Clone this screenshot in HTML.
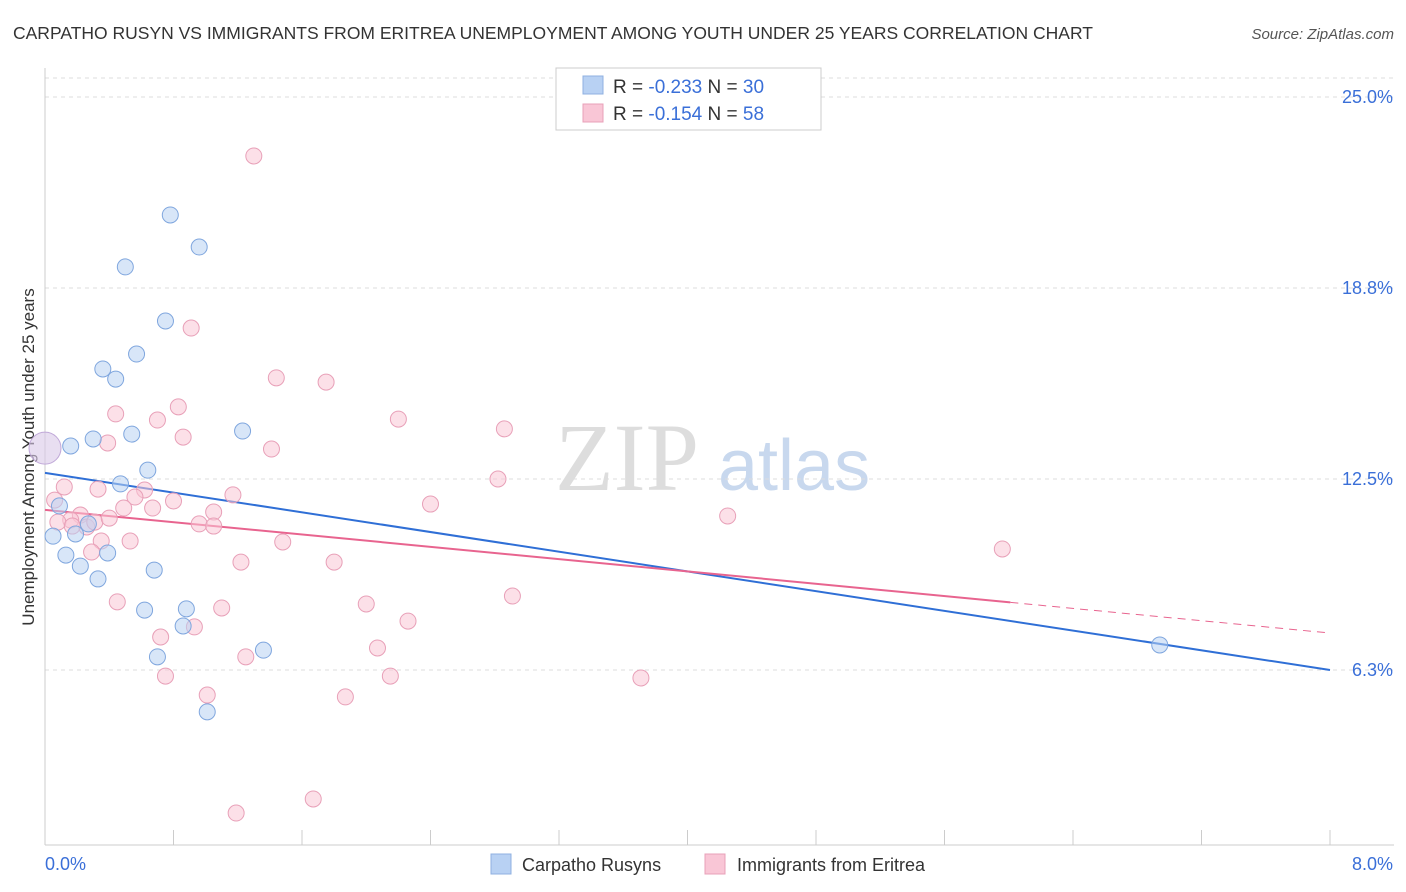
<!DOCTYPE html>
<html><head><meta charset="utf-8"><style>
body{margin:0;background:#fff;font-family:"Liberation Sans",sans-serif}
svg{display:block}
</style></head><body>
<svg id="chart" width="1406" height="892">
<text x="13" y="39" font-size="17.5" fill="#333">CARPATHO RUSYN VS IMMIGRANTS FROM ERITREA UNEMPLOYMENT AMONG YOUTH UNDER 25 YEARS CORRELATION CHART</text>
<text x="1394" y="39" font-size="15" fill="#555" font-style="italic" text-anchor="end">Source: ZipAtlas.com</text>
<text x="0" y="0" transform="translate(34,457) rotate(-90)" font-size="17" fill="#333" text-anchor="middle">Unemployment Among Youth under 25 years</text>
<g><text x="555" y="490" font-size="96" fill="#ddd" font-family="Liberation Serif,serif">ZIP</text><text x="718" y="490" font-size="72" fill="#c8d8ee">atlas</text></g>
<g id="grid"></g><g id="axes"></g><g id="trends"></g><g id="pts"></g>
<g>
<rect x="556" y="68" width="265" height="62" fill="#fff" stroke="#ccc"/>
<rect x="583" y="76" width="20" height="18" fill="#b8d1f3" stroke="#8fb0e0"/>
<text x="613" y="93" font-size="19" fill="#333">R = <tspan fill="#3a6fd8">-0.233</tspan>   N = <tspan fill="#3a6fd8">30</tspan></text>
<rect x="583" y="104" width="20" height="18" fill="#f9c6d6" stroke="#e8a0b8"/>
<text x="613" y="120" font-size="19" fill="#333">R = <tspan fill="#3a6fd8">-0.154</tspan>   N = <tspan fill="#3a6fd8">58</tspan></text>
</g>
<g>
<rect x="491" y="854" width="20" height="20" fill="#b8d1f3" stroke="#8fb0e0"/>
<text x="522" y="871" font-size="18" fill="#333">Carpatho Rusyns</text>
<rect x="705" y="854" width="20" height="20" fill="#f9c6d6" stroke="#e8a0b8"/>
<text x="737" y="871" font-size="18" fill="#333">Immigrants from Eritrea</text>
</g>
</svg>
<script>
const blueX=[0.78,0.96,0.50,0.75,0.57,0.36,0.44,1.23,0.54,0.30,0.16,0.64,0.47,0.09,0.27,0.05,0.19,0.13,0.39,0.22,0.68,0.33,0.62,0.88,0.86,0.70,1.36,1.01,6.94];
const blueY=[21.14,20.09,19.44,17.67,16.59,16.10,15.77,14.07,13.97,13.81,13.58,12.79,12.34,11.62,11.03,10.63,10.70,10.01,10.08,9.65,9.52,9.23,8.21,8.25,7.69,6.68,6.90,4.88,7.07];
const pinkX=[1.30,0.91,1.44,1.75,0.83,0.44,0.70,2.20,2.86,0.86,0.39,1.41,0.12,0.33,0.62,0.56,0.80,0.06,1.17,2.82,2.40,0.49,0.67,1.05,4.25,0.22,0.16,0.08,0.26,0.96,1.05,1.48,0.35,0.53,0.29,1.22,1.80,5.96,0.45,1.10,2.00,2.91,2.26,0.72,0.93,2.07,1.25,0.75,2.15,3.71,1.01,1.87,1.19,1.67,0.31,0.40,0.17];
const pinkY=[23.07,17.44,15.81,15.67,14.86,14.63,14.43,14.46,14.14,13.87,13.68,13.48,12.24,12.17,12.14,11.91,11.78,11.81,11.98,12.50,11.68,11.55,11.55,11.42,11.29,11.32,11.16,11.09,10.93,11.03,10.96,10.44,10.47,10.47,10.11,9.78,9.78,10.21,8.48,8.28,8.41,8.67,7.85,7.33,7.66,6.97,6.68,6.05,6.05,5.99,5.43,5.37,1.57,2.03,11.09,11.22,10.96];
const bigX=[0,0], bigY=[13.51,13.58];
const yTicks=[25.0,18.8,12.5,6.3];
const yTickVals=[25,18.75,12.5,6.25];
const blueTrend=[12.70,6.25], pinkTrend=[11.49,7.46], pinkSolidEnd=6.01;
const NS="http://www.w3.org/2000/svg";
const xs=v=>45+v/8*1285, ys=v=>97+(25-v)*30.56;
function mk(t,a,p){const e=document.createElementNS(NS,t);for(const k in a)e.setAttribute(k,a[k]);document.getElementById(p).appendChild(e);return e;}
yTickVals.forEach((v,i)=>{
 let l=mk('line',{x1:45,x2:1394,y1:ys(v),y2:ys(v),stroke:'#ddd','stroke-dasharray':'4,4'},'grid');
 
 
 let t=mk('text',{x:1393,y:ys(v)+6,'font-size':18,fill:'#3a6fd8','text-anchor':'end'},'axes');t.textContent=yTicks[i].toFixed(1)+'%';
 
 
});
let tl=mk('line',{x1:45,x2:1394,y1:78,y2:78,stroke:'#ddd','stroke-dasharray':'4,4'},'grid');


let ya=mk('line',{x1:45,x2:45,y1:68,y2:845,stroke:'#ccc'},'axes');


let xa=mk('line',{x1:45,x2:1394,y1:845,y2:845,stroke:'#ccc'},'axes');


for(let i=0;i<=10;i++){let t=mk('line',{x1:xs(i*0.8),x2:xs(i*0.8),y1:830,y2:845,stroke:'#ccc'},'axes');
 
 }
[[0,'0.0%','start',45],[8,'8.0%','end',1393]].forEach(d=>{let t=mk('text',{x:d[3],y:870,'font-size':18,fill:'#3a6fd8','text-anchor':d[2]},'axes');t.textContent=d[1];
 
 });
function pts(X,Y,f,s,n,r){X.forEach((x,i)=>{let c=mk('circle',{cx:xs(x),cy:ys(Y[i]),r:r,fill:f,'fill-opacity':0.55,stroke:s,'stroke-width':1},'pts');
 
 });}
pts(pinkX,pinkY,'#f9c6d6','#e8a0b8','eritrea-point',8);
pts(blueX,blueY,'#b8d1f3','#7fa6de','rusyn-point',8);
let bp=mk('circle',{cx:xs(bigX[0]),cy:ys(bigY[0]),r:16,fill:'#d8c8e8','fill-opacity':0.6,stroke:'#c0a8d8'},'pts');


let bt=mk('line',{x1:xs(0),y1:ys(blueTrend[0]),x2:xs(8),y2:ys(blueTrend[1]),stroke:'#2f6fd6','stroke-width':2},'trends');


const pAt=x=>pinkTrend[0]+(pinkTrend[1]-pinkTrend[0])*x/8;
let pt=mk('line',{x1:xs(0),y1:ys(pinkTrend[0]),x2:xs(pinkSolidEnd),y2:ys(pAt(pinkSolidEnd)),stroke:'#e8648f','stroke-width':2},'trends');


let pd=mk('line',{x1:xs(pinkSolidEnd),y1:ys(pAt(pinkSolidEnd)),x2:xs(8),y2:ys(pinkTrend[1]),stroke:'#e8648f','stroke-width':1,'stroke-dasharray':'8,6'},'trends');


</script>
</body></html>
